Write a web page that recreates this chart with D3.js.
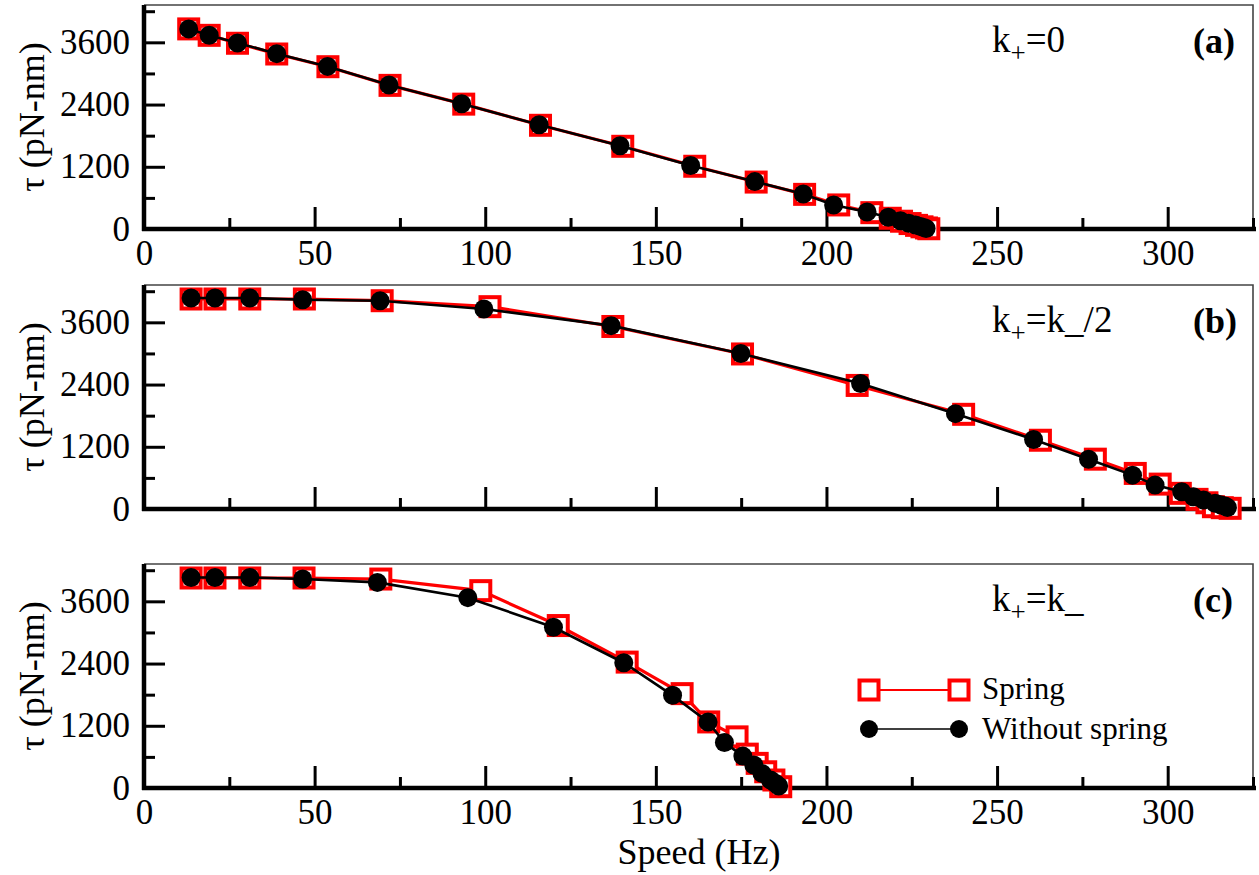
<!DOCTYPE html>
<html><head><meta charset="utf-8">
<script src="https://cdn.jsdelivr.net/npm/d3@7"></script>
<style>
body{margin:0;background:#fff;}
svg{display:block;}
</style></head>
<body><svg id="chart" width="1259" height="875"></svg>
<script>
// ---------- DATA ----------
const xTicksMajor = [0, 50, 100, 150, 200, 250, 300];
const xTicksMinor = [25, 75, 125, 175, 225, 275, 325];
const yTicksMajor = [0, 1200, 2400, 3600];
const yTicksMinor = [600, 1800, 3000, 4200];
const panelLabels = ["(a)", "(b)", "(c)"];
const seriesNames = ["Spring", "Without spring"];

// panel (a) k+=0
const speedSpringA = [13.1, 19.1, 27.4, 38.9, 53.9, 72.1, 93.7, 116.2, 140.3, 161.4, 179.4, 193.6, 203.6, 213.3, 218.7, 222.0, 224.5, 226.4, 228.0, 229.3, 230.0];
const torqueSpringA = [3859, 3735, 3582, 3375, 3130, 2770, 2408, 2000, 1595, 1210, 905, 668, 464, 315, 207, 150, 105, 70, 42, 20, 5];
const speedNoSpringA = [13.1, 19.1, 27.4, 38.9, 53.8, 71.8, 93.1, 115.8, 139.5, 160.2, 179.0, 193.2, 202.1, 211.9, 218.1, 221.7, 224.1, 226.1, 227.5, 228.5, 229.2];
const torqueNoSpringA = [3859, 3735, 3588, 3382, 3136, 2777, 2415, 2010, 1604, 1223, 914, 676, 464, 328, 226, 160, 110, 77, 50, 28, 10];

// panel (b) k+=k_/2
const speedSpringB = [13.8, 20.8, 31.0, 47.0, 69.8, 101.4, 137.4, 175.4, 209.0, 240.2, 262.7, 278.8, 290.5, 297.8, 303.7, 308.6, 311.5, 313.4, 316.0, 318.3];
const torqueSpringB = [4050, 4050, 4050, 4050, 4017, 3902, 3520, 2990, 2383, 1826, 1326, 961, 686, 480, 302, 186, 120, 44, 25, 13];
const speedNoSpringB = [13.8, 20.8, 31.0, 46.5, 69.2, 99.6, 136.9, 174.9, 210.0, 237.8, 260.7, 276.8, 289.7, 296.3, 304.1, 307.5, 310.5, 313.9, 315.5, 316.8, 317.5];
const torqueNoSpringB = [4069, 4069, 4069, 4036, 4017, 3857, 3536, 2998, 2422, 1839, 1340, 961, 653, 461, 333, 236, 173, 110, 80, 58, 30];

// panel (c) k+=k_
const speedSpringC = [13.8, 20.8, 31.0, 46.9, 69.4, 98.7, 121.4, 141.6, 157.7, 165.5, 173.8, 176.8, 179.7, 182.2, 184.6, 186.6];
const torqueSpringC = [4050, 4050, 4050, 4050, 4030, 3806, 3133, 2428, 1820, 1274, 986, 653, 475, 313, 154, 25];
const speedNoSpringC = [13.8, 20.8, 31.0, 46.5, 68.4, 94.9, 120.0, 140.6, 154.9, 165.3, 170.1, 175.5, 178.7, 181.1, 183.6, 185.0, 186.0];
const torqueNoSpringC = [4061, 4061, 4061, 4030, 3965, 3671, 3100, 2416, 1787, 1274, 878, 615, 442, 282, 154, 90, 38];

const panels = [
  {label: panelLabels[0], ann: ["k", "+", "=0"], sx: speedSpringA, sy: torqueSpringA, nx: speedNoSpringA, ny: torqueNoSpringA, top: 5, bottom: 229, xlabels: true},
  {label: panelLabels[1], ann: ["k", "+", "=k_/2"], sx: speedSpringB, sy: torqueSpringB, nx: speedNoSpringB, ny: torqueNoSpringB, top: 285, bottom: 509, xlabels: false},
  {label: panelLabels[2], ann: ["k", "+", "=k_"], sx: speedSpringC, sy: torqueSpringC, nx: speedNoSpringC, ny: torqueNoSpringC, top: 564, bottom: 788, xlabels: true}
];

// ---------- DRAW ----------
const FONT = "'Liberation Serif', 'Times New Roman', serif";
const svg = d3.select("#chart").style("font-family", FONT);
svg.append("rect").attr("width", 1259).attr("height", 875).attr("fill", "#fff");
const LEFT = 144, RIGHT = 1253;
const x = d3.scaleLinear().domain([0, 325]).range([LEFT, RIGHT]);
const RED = "#ff0000";

function txt(sel) { return sel.style("font-family", FONT).attr("fill", "#000"); }

panels.forEach((p, i) => {
  const y = d3.scaleLinear().domain([0, 4320]).range([p.bottom, p.top]);
  const g = svg.append("g");
  g.append("rect").attr("x", LEFT).attr("y", p.top).attr("width", RIGHT - LEFT).attr("height", p.bottom - p.top).attr("fill", "#fff");

  // top/right border
  g.append("path").attr("d", `M${LEFT},${p.top}H${RIGHT}V${p.bottom}`).attr("fill", "none").attr("stroke", "#444").attr("stroke-width", 1.6);

  // axes
  const xa = g.append("g").attr("transform", `translate(0,${p.bottom})`)
    .call(d3.axisBottom(x).tickValues(xTicksMajor).tickSizeInner(-22).tickSizeOuter(0).tickPadding(11).tickFormat(d3.format("d")));
  const xm = g.append("g").attr("transform", `translate(0,${p.bottom})`)
    .call(d3.axisBottom(x).tickValues(xTicksMinor).tickSizeInner(-11).tickSizeOuter(0).tickFormat(""));
  const ya = g.append("g").attr("transform", `translate(${LEFT},0)`)
    .call(d3.axisLeft(y).tickValues(yTicksMajor).tickSizeInner(-21).tickSizeOuter(0).tickPadding(14).tickFormat(d3.format("d")));
  const ym = g.append("g").attr("transform", `translate(${LEFT},0)`)
    .call(d3.axisLeft(y).tickValues(yTicksMinor).tickSizeInner(-11).tickSizeOuter(0).tickFormat(""));
  [xa, xm, ya, ym].forEach(a => {
    a.attr("font-family", null).style("font-family", FONT);
    a.select(".domain").remove();
    a.selectAll(".tick line").attr("stroke", "#000").attr("stroke-width", 3);
    txt(a.selectAll("text")).attr("font-size", 35);
  });
  if (!p.xlabels) xa.selectAll("text").remove();

  // thick axis lines
  g.append("line").attr("x1", LEFT).attr("x2", LEFT).attr("y1", p.top).attr("y2", p.bottom + 2).attr("stroke", "#000").attr("stroke-width", 4.5);
  g.append("line").attr("x1", LEFT - 2).attr("x2", RIGHT + 3).attr("y1", p.bottom).attr("y2", p.bottom).attr("stroke", "#000").attr("stroke-width", 4.5);

  // y title
  txt(g.append("text")).attr("transform", `translate(44,${(p.top + p.bottom) / 2}) rotate(-90)`)
    .attr("text-anchor", "middle").attr("font-size", 36).text("τ (pN-nm)");

  // series
  const line = d3.line().x(d => x(d[0])).y(d => y(d[1]));
  const sp = p.sx.map((v, j) => [v, p.sy[j]]);
  const np = p.nx.map((v, j) => [v, p.ny[j]]);
  g.append("path").datum(sp).attr("d", line).attr("fill", "none").attr("stroke", RED).attr("stroke-width", 3.2);
  g.selectAll(".sq").data(sp).enter().append("rect")
    .attr("x", d => x(d[0]) - 9.5).attr("y", d => y(d[1]) - 9.5).attr("width", 19).attr("height", 19)
    .attr("fill", "#fff").attr("stroke", RED).attr("stroke-width", 4);
  g.append("path").datum(np).attr("d", line).attr("fill", "none").attr("stroke", "#000").attr("stroke-width", 2.6);
  g.selectAll(".ci").data(np).enter().append("circle")
    .attr("cx", d => x(d[0])).attr("cy", d => y(d[1])).attr("r", 9.5).attr("fill", "#000");

  // annotation
  const by = p.top + 47;
  const t = txt(g.append("text")).attr("x", 992).attr("y", by).attr("font-size", 37);
  t.append("tspan").text(p.ann[0]);
  t.append("tspan").attr("font-size", 27).attr("dy", 10).text(p.ann[1]);
  t.append("tspan").attr("dy", -10).text(p.ann[2]);
  txt(g.append("text")).attr("x", 1193).attr("y", by + 1).attr("font-size", 36).attr("font-weight", "bold").text(p.label);
});

// x title
txt(svg.append("text")).attr("x", 699).attr("y", 864).attr("text-anchor", "middle").attr("font-size", 36).text("Speed (Hz)");

// legend
const lg = svg.append("g");
lg.append("line").attr("x1", 869).attr("x2", 959).attr("y1", 690).attr("y2", 690).attr("stroke", RED).attr("stroke-width", 2.2);
[869, 959].forEach(cx => {
  lg.append("rect").attr("x", cx - 9.5).attr("y", 690 - 9.5).attr("width", 19).attr("height", 19).attr("fill", "#fff").attr("stroke", RED).attr("stroke-width", 4);
});
lg.append("line").attr("x1", 869).attr("x2", 959).attr("y1", 729).attr("y2", 729).attr("stroke", "#000").attr("stroke-width", 1.4);
[869, 959].forEach(cx => {
  lg.append("circle").attr("cx", cx).attr("cy", 729).attr("r", 9).attr("fill", "#000");
});
txt(lg.append("text")).attr("x", 982).attr("y", 699).attr("font-size", 31).text(seriesNames[0]);
txt(lg.append("text")).attr("x", 982).attr("y", 739).attr("font-size", 31).text(seriesNames[1]);
</script></body></html>
